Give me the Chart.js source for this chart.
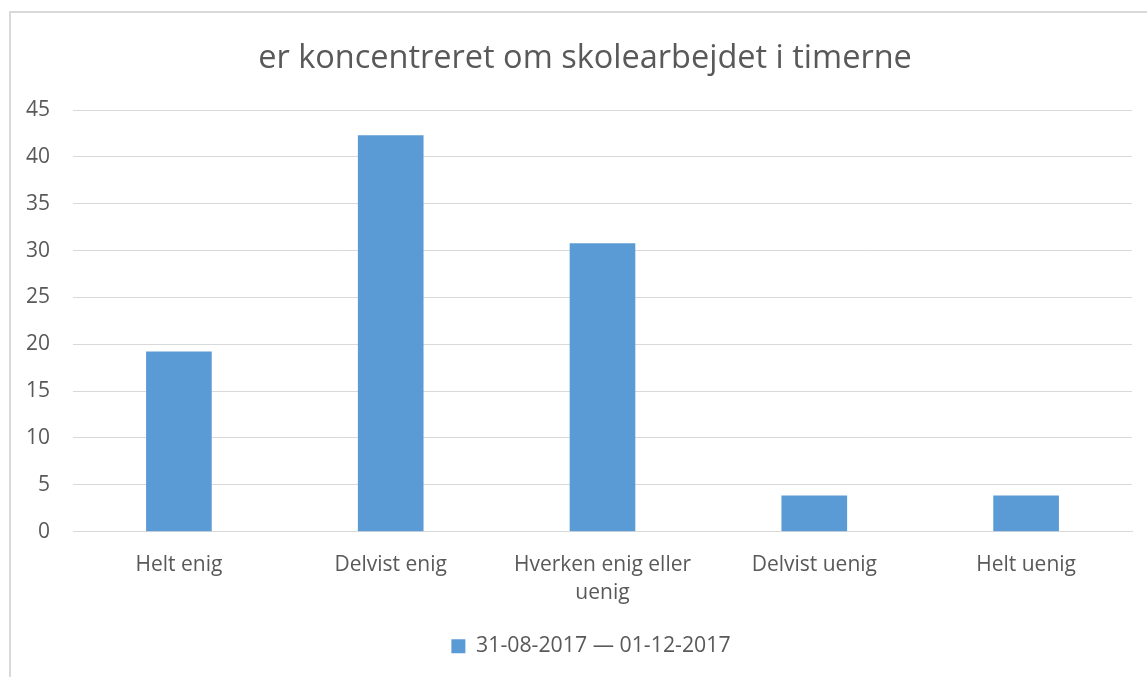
<!DOCTYPE html>
<html>
<head>
<meta charset="utf-8">
<script src="https://cdn.jsdelivr.net/npm/chart.js@4/dist/chart.umd.min.js"></script>
<style>
  html, body { margin: 0; padding: 0; background: #fff; }
  #wrap { position: relative; width: 1147px; height: 677px; overflow: hidden; }
  #frame { position: absolute; left: 9px; top: 11px; width: 1200px; height: 700px;
           border-top: 2px solid #d9d9d9; border-left: 2px solid #d9d9d9; box-sizing: border-box; }
  canvas { position: absolute; left: 0; top: 0; }
</style>
</head>
<body>
<div id="wrap">
  <div id="frame"></div>
  <canvas id="c" width="1147" height="677"></canvas>
</div>
<script>
const chartTitle = "er koncentreret om skolearbejdet i timerne";
const categories = ["Helt enig", "Delvist enig", ["Hverken enig eller", "uenig"], "Delvist uenig", "Helt uenig"];
const seriesName = "31-08-2017 — 01-12-2017";
const seriesValues = [19.23, 42.31, 30.77, 3.85, 3.85];
const yTicks = [0, 5, 10, 15, 20, 25, 30, 35, 40, 45];

const FONT = "'Open Sans', sans-serif";
const TXT = "#595959";
const GRID = "#d9d9d9";

// The original chart frame extends beyond the picture on the right,
// so the title and legend are centred a little to the right of the plot.
const shiftCentered = {
  id: "shiftCentered",
  afterLayout(chart) {
    if (chart.titleBlock) { chart.titleBlock.left += 19; chart.titleBlock.right += 19; }
    if (chart.legend) { chart.legend.left += 25; chart.legend.right += 25; }
  }
};

new Chart(document.getElementById("c"), {
  type: "bar",
  data: {
    labels: categories,
    datasets: [{
      label: seriesName,
      data: seriesValues,
      backgroundColor: "#5b9bd5",
      borderWidth: 0,
      categoryPercentage: 1,
      barPercentage: 0.31
    }]
  },
  plugins: [shiftCentered],
  options: {
    responsive: false,
    animation: false,
    layout: { padding: { left: 0, right: 15, top: 20, bottom: 10 } },
    plugins: {
      title: {
        display: true,
        text: chartTitle,
        color: TXT,
        font: { family: FONT, size: 32.5, weight: "normal", lineHeight: 1.2 },
        padding: { top: 19, bottom: 32 }
      },
      legend: {
        display: true,
        position: "bottom",
        labels: {
          color: TXT,
          font: { family: FONT, size: 21.3 },
          boxWidth: 14,
          boxHeight: 14,
          padding: 10
        }
      },
      tooltip: { enabled: false }
    },
    scales: {
      x: {
        grid: { display: false, drawTicks: false },
        border: { display: true, color: GRID, width: 1 },
        ticks: {
          color: TXT,
          font: { family: FONT, size: 21, lineHeight: 1.33 },
          padding: 19,
          maxRotation: 0,
          autoSkip: false
        },
        afterFit: (s) => { s.height = 94; }
      },
      y: {
        min: 0,
        max: 45,
        afterBuildTicks: (s) => { s.ticks = yTicks.map(v => ({ value: v })); },
        grid: { color: GRID, lineWidth: 1, drawTicks: false },
        border: { display: false },
        ticks: {
          color: TXT,
          font: { family: FONT, size: 21 },
          padding: 23
        },
        afterFit: (s) => { s.width = 73; }
      }
    }
  }
});
</script>
</body>
</html>
